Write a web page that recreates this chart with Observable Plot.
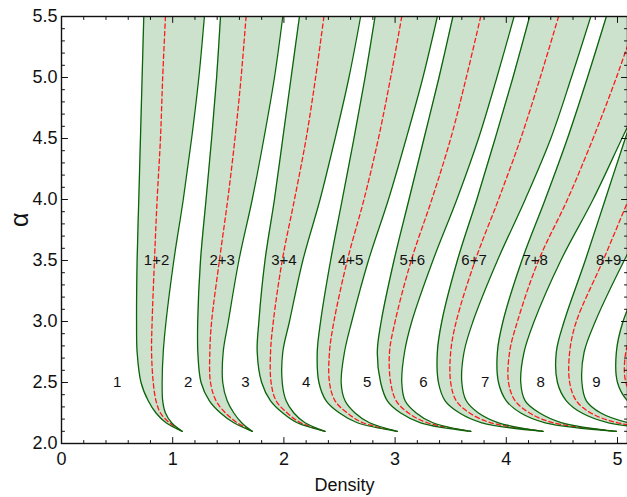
<!DOCTYPE html>
<html><head><meta charset="utf-8">
<script src="https://cdn.jsdelivr.net/npm/d3@7"></script>
<script src="https://cdn.jsdelivr.net/npm/@observablehq/plot@0.6"></script>
<style>
html,body{margin:0;padding:0;background:#fff;}
</style></head><body><div id="chart"></div>
<script>
// α levels at which each curve was read (top of chart down to the tip)
const alphaLevels = [5.5, 5.0, 4.5, 4.0, 3.5, 3.0, 2.75, 2.5, 2.35, 2.25, 2.17, 2.1];
const bandNames = ["1+2", "2+3", "3+4", "4+5", "5+6", "6+7", "7+8", "8+9", "9+10"];

// Density of the left boundary of each band, one row per band, one value per α level
const leftEdges = [
  [0.74, 0.725, 0.71, 0.695, 0.68, 0.675, 0.68, 0.715, 0.78, 0.85, 0.94, 1.085],
  [1.43, 1.395, 1.35, 1.30, 1.25, 1.225, 1.226, 1.255, 1.33, 1.43, 1.55, 1.715],
  [2.14, 2.065, 1.99, 1.915, 1.83, 1.775, 1.76, 1.80, 1.88, 1.99, 2.12, 2.37],
  [2.82, 2.73, 2.63, 2.525, 2.42, 2.33, 2.30, 2.315, 2.38, 2.50, 2.66, 3.02],
  [3.52, 3.395, 3.26, 3.125, 2.99, 2.875, 2.84, 2.87, 2.93, 3.05, 3.23, 3.68],
  [4.21, 4.06, 3.90, 3.735, 3.56, 3.42, 3.38, 3.39, 3.45, 3.58, 3.78, 4.33],
  [4.90, 4.73, 4.55, 4.35, 4.14, 3.97, 3.92, 3.93, 4.00, 4.13, 4.35, 4.99],
  [5.45, 5.26, 5.07, 4.89, 4.71, 4.52, 4.45, 4.46, 4.54, 4.68, 4.92, 5.65],
  [6.10, 5.90, 5.70, 5.50, 5.28, 5.05, 4.99, 5.00, 5.09, 5.25, 5.50, 6.30]
];
// Density of the red dashed centre line of each band
const centerLines = [
  [0.935, 0.91, 0.89, 0.86, 0.836, 0.815, 0.81, 0.825, 0.85, 0.89, 0.97, 1.085],
  [1.66, 1.615, 1.56, 1.495, 1.42, 1.35, 1.334, 1.34, 1.39, 1.475, 1.58, 1.715],
  [2.36, 2.285, 2.20, 2.095, 1.985, 1.905, 1.88, 1.885, 1.93, 2.03, 2.15, 2.37],
  [3.06, 2.96, 2.85, 2.72, 2.57, 2.45, 2.41, 2.41, 2.46, 2.57, 2.71, 3.02],
  [3.77, 3.64, 3.50, 3.33, 3.145, 3.00, 2.95, 2.96, 3.01, 3.12, 3.29, 3.68],
  [4.47, 4.305, 4.13, 3.93, 3.72, 3.55, 3.50, 3.50, 3.55, 3.67, 3.86, 4.33],
  [5.18, 4.99, 4.78, 4.55, 4.29, 4.10, 4.03, 4.02, 4.08, 4.21, 4.42, 4.99],
  [5.75, 5.55, 5.33, 5.10, 4.87, 4.63, 4.57, 4.57, 4.63, 4.76, 5.00, 5.65],
  [6.40, 6.20, 5.95, 5.70, 5.45, 5.17, 5.075, 5.075, 5.17, 5.33, 5.60, 6.30]
];
// Density of the right boundary of each band
const rightEdges = [
  [1.285, 1.235, 1.17, 1.095, 1.01, 0.94, 0.915, 0.905, 0.91, 0.935, 0.99, 1.085],
  [1.99, 1.915, 1.82, 1.715, 1.595, 1.50, 1.454, 1.45, 1.49, 1.55, 1.62, 1.715],
  [2.69, 2.585, 2.46, 2.325, 2.17, 2.05, 1.99, 1.985, 2.02, 2.09, 2.19, 2.37],
  [3.38, 3.25, 3.10, 2.94, 2.76, 2.61, 2.545, 2.515, 2.55, 2.64, 2.77, 3.02],
  [4.07, 3.915, 3.75, 3.555, 3.34, 3.15, 3.085, 3.06, 3.09, 3.19, 3.34, 3.68],
  [4.76, 4.585, 4.40, 4.17, 3.92, 3.70, 3.62, 3.60, 3.64, 3.75, 3.93, 4.33],
  [5.55, 5.30, 5.04, 4.78, 4.49, 4.25, 4.16, 4.13, 4.17, 4.30, 4.50, 4.99],
  [6.10, 5.90, 5.65, 5.35, 5.06, 4.80, 4.70, 4.68, 4.72, 4.85, 5.10, 5.65],
  [6.80, 6.60, 6.30, 6.00, 5.70, 5.40, 5.25, 5.22, 5.26, 5.40, 5.70, 6.30]
];

// region labels
const singleLabels = ["1", "2", "3", "4", "5", "6", "7", "8", "9"];
const singleLabelX = [0.50, 1.14, 1.655, 2.20, 2.75, 3.255, 3.81, 4.31, 4.81];
const singleLabelAlpha = 2.5;
const pairLabels = ["1+2", "2+3", "3+4", "4+5", "5+6", "6+7", "7+8", "8+9"];
const pairLabelX = [0.855, 1.445, 2.0, 2.6, 3.155, 3.71, 4.26, 4.92];
const pairLabelAlpha = 3.5;

// axis ticks
const xDomain = [0, 5.09];
const yDomain = [2.0, 5.5];
const xMajorTicks = [0, 1, 2, 3, 4, 5];
const yMajorTicks = [2.0, 2.5, 3.0, 3.5, 4.0, 4.5, 5.0, 5.5];
const xMinorTicks = d3.range(0, 5.1, 0.2).filter(v => Math.abs(v - Math.round(v)) > 1e-6);
const yMinorTicks = d3.range(2.0, 5.51, 0.1).filter(v => Math.abs(v * 2 - Math.round(v * 2)) > 1e-6);

const rows = bandNames.flatMap((band, i) => alphaLevels.map((a, j) => ({
  band, a, L: leftEdges[i][j], C: centerLines[i][j], R: rightEdges[i][j]
})));
const singles = singleLabels.map((t, i) => ({t, x: singleLabelX[i], a: singleLabelAlpha}));
const pairs = pairLabels.map((t, i) => ({t, x: pairLabelX[i], a: pairLabelAlpha}));

const green = "#0b640b";
const font = "Liberation Sans, Arial, Helvetica, sans-serif";
const tickShape = {draw(context, l) { context.moveTo(0, 0); context.lineTo(0, -l); }};

// inward tick marks on all four sides of the frame
function ticksX(values, yEdge, len, rot) {
  return Plot.vector(values, {x: d => d, y: () => yEdge, length: len, rotate: rot, anchor: "start",
    shape: tickShape, stroke: "#111", strokeWidth: 1});
}
function ticksY(values, xEdge, len, rot) {
  return Plot.vector(values, {y: d => d, x: () => xEdge, length: len, rotate: rot, anchor: "start",
    shape: tickShape, stroke: "#111", strokeWidth: 1});
}

const curve = "catmull-rom";
const chart = Plot.plot({
  width: 627,
  height: 497,
  marginLeft: 61,
  marginRight: 0,
  marginTop: 16,
  marginBottom: 54,
  style: {fontFamily: font, fontSize: "18px", color: "#111", background: "#fff"},
  x: {domain: xDomain},
  y: {domain: yDomain},
  length: {type: "identity"},
  marks: [
    Plot.areaX(rows, {y: "a", x1: "L", x2: "R", z: "band", fill: "#cde2cd", curve, clip: true}),
    Plot.line(rows, {x: "C", y: "a", z: "band", stroke: "#ff1a1a", strokeWidth: 1.3, strokeDasharray: "4.5,3", curve, clip: true}),
    Plot.line(rows, {x: "L", y: "a", z: "band", stroke: green, strokeWidth: 1.3, curve, clip: true}),
    Plot.line(rows, {x: "R", y: "a", z: "band", stroke: green, strokeWidth: 1.3, curve, clip: true}),
    Plot.text(singles, {x: "x", y: "a", text: "t", fontSize: 15, fill: "#111", clip: true}),
    Plot.text(pairs, {x: "x", y: "a", text: "t", fontSize: 15, fill: "#111", clip: true}),
    // frame
    Plot.frame({stroke: "#111", strokeWidth: 1.4}),
    // ticks pointing inward
    ticksX(xMajorTicks, yDomain[0], 6, 0),
    ticksX(xMinorTicks, yDomain[0], 3, 0),
    ticksX(xMajorTicks, yDomain[1], 6, 180),
    ticksX(xMinorTicks, yDomain[1], 3, 180),
    ticksY(yMajorTicks, xDomain[0], 6, 90),
    ticksY(yMinorTicks, xDomain[0], 3, 90),
    ticksY(yMajorTicks, xDomain[1], 6, -90),
    ticksY(yMinorTicks, xDomain[1], 3, -90),
    // tick labels
    Plot.axisX({anchor: "bottom", ticks: xMajorTicks, tickSize: 0, tickPadding: 9, tickFormat: d3.format("d"), label: null, fontSize: 18}),
    Plot.axisY({anchor: "left", ticks: yMajorTicks, tickSize: 0, tickPadding: 4, tickFormat: d3.format(".1f"), label: null, fontSize: 18}),
    // axis titles
    Plot.text(["Density"], {frameAnchor: "bottom", dy: 47, text: d => d, fontSize: 18, fill: "#111"}),
    Plot.text(["α"], {frameAnchor: "left", dx: -42, dy: -3, text: d => d, fontSize: 25, rotate: -90, fill: "#111"})
  ]
});
document.getElementById("chart").appendChild(chart);
</script>
</body></html>
